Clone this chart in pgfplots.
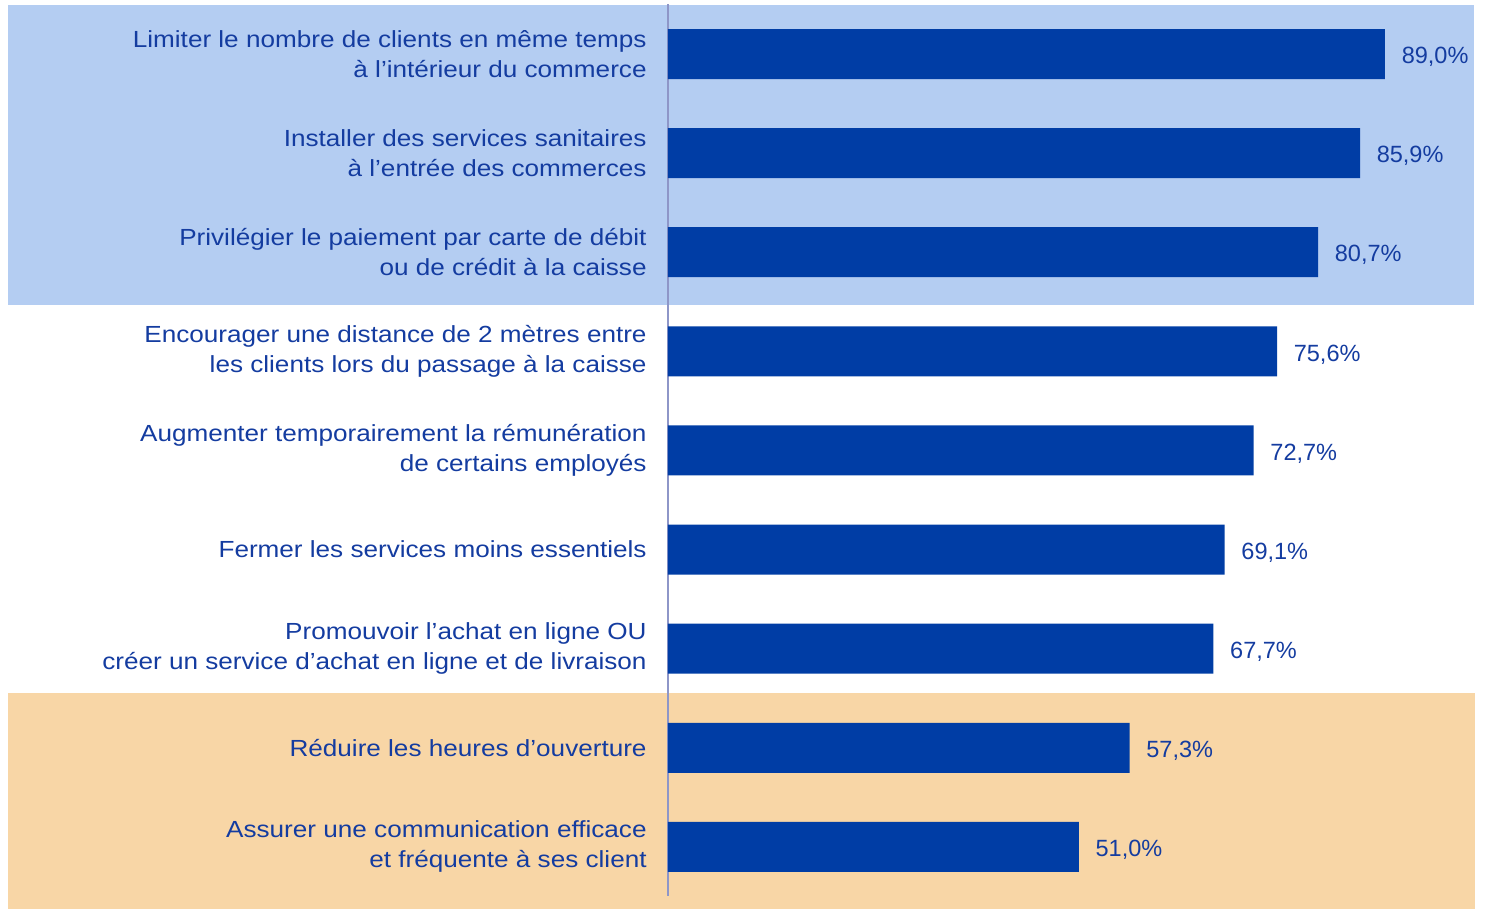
\documentclass[border=0pt]{standalone}
\usepackage{fontspec}
\setmainfont{Liberation Sans}
\newfontfamily\lblfont{Liberation Sans}[FakeStretch=1.12]
\usepackage{pgfplots}
\pgfplotsset{compat=1.18}
\definecolor{barblue}{RGB}{0,61,165}
\definecolor{bgblue}{RGB}{180,205,242}
\definecolor{bgorange}{RGB}{248,214,166}
\definecolor{txtblue}{RGB}{20,60,160}
\definecolor{axgray}{RGB}{142,150,200}
\begin{document}
\begin{tikzpicture}
\begin{axis}[
  set layers,
  scale only axis,
  width=402.8bp, height=446bp,
  xmin=0, xmax=100, ymin=-0.5, ymax=8.5, y dir=reverse,
  axis x line=none, axis y line*=left,
  axis line style={axgray, line width=0.75bp, -},
  xbar, bar width=25bp, bar shift=0pt,
  ytick={0,...,8},
  yticklabels={
    {Limiter le nombre de clients en même temps\\à l’intérieur du commerce},
    {Installer des services sanitaires\\à l’entrée des commerces},
    {Privilégier le paiement par carte de débit\\ou de crédit à la caisse},
    {Encourager une distance de 2 mètres entre\\les clients lors du passage à la caisse},
    {Augmenter temporairement la rémunération\\de certains employés},
    {Fermer les services moins essentiels},
    {Promouvoir l’achat en ligne OU\\créer un service d’achat en ligne et de livraison},
    {Réduire les heures d’ouverture},
    {Assurer une communication efficace\\et fréquente à ses client}},
  yticklabel style={align=right, font=\lblfont\fontsize{11.7}{15}\selectfont, text=txtblue, inner sep=0pt, xshift=-10.5bp},
  major tick length=0pt,
  nodes near coords={\pgfmathprintnumber[fixed, fixed zerofill, precision=1, use comma, assume math mode=true]{\pgfplotspointmeta}\%},
  nodes near coords style={font=\fontsize{11.8}{14}\selectfont, text=txtblue, inner sep=0pt, xshift=8.2bp, yshift=-1.5bp, anchor=west},
  point meta=x,
  clip=false,
]
\begin{pgfonlayer}{axis background}
\fill[bgblue] (axis cs:-81.9,-0.495) rectangle (axis cs:100,2.53);
\fill[bgorange] (axis cs:-81.9,6.45) rectangle (axis cs:100.2,8.625);
\end{pgfonlayer}
\path (axis cs:-82.92,-0.545) rectangle (axis cs:101.79,8.625);
\addplot[fill=barblue, draw=none] coordinates {
  (89.0,0) (85.9,1) (80.7,2) (75.6,3) (72.7,4) (69.1,5) (67.7,6) (57.3,7) (51.0,8)
};
\end{axis}
\end{tikzpicture}
\end{document}
